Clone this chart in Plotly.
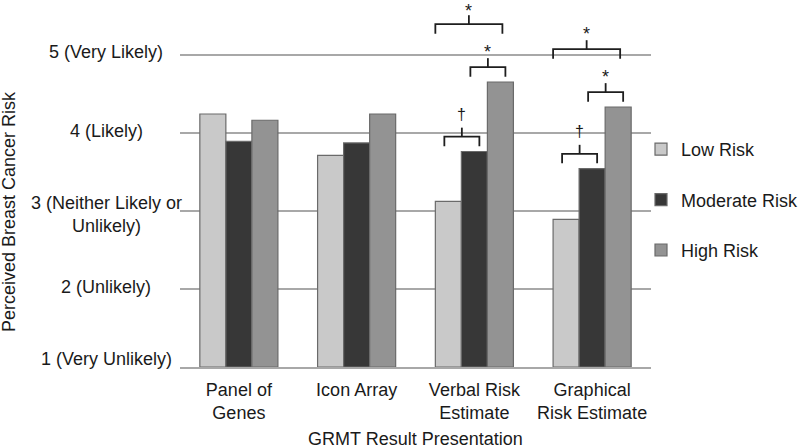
import plotly.graph_objs as go

# GRMT result presentation formats (x categories)
categories = ["Panel of Genes", "Icon Array", "Verbal Risk Estimate", "Graphical Risk Estimate"]
category_labels = ["Panel of<br>Genes", "Icon Array", "Verbal Risk<br>Estimate", "Graphical<br>Risk Estimate"]

# mean perceived risk per group
series_names = ["Low Risk", "Moderate Risk", "High Risk"]
low_risk = [4.24, 3.71, 3.12, 2.89]
moderate_risk = [3.89, 3.87, 3.76, 3.54]
high_risk = [4.16, 4.24, 4.65, 4.33]

# y tick labels
y_ticks = [1, 2, 3, 4, 5]
y_tick_labels = ["1 (Very Unlikely)", "2 (Unlikely)", "3 (Neither Likely or<br>Unlikely)",
                 "4 (Likely)", "5 (Very Likely)"]

# significance brackets: (category, group a, group b, marker)
sig_tests = [
    ("Verbal Risk Estimate", "Low Risk", "Moderate Risk", "†"),
    ("Verbal Risk Estimate", "Moderate Risk", "High Risk", "*"),
    ("Verbal Risk Estimate", "Low Risk", "High Risk", "*"),
    ("Graphical Risk Estimate", "Low Risk", "Moderate Risk", "†"),
    ("Graphical Risk Estimate", "Moderate Risk", "High Risk", "*"),
    ("Graphical Risk Estimate", "Low Risk", "High Risk", "*"),
]

colors = ["#c9c9c9", "#373737", "#939393"]
FONT = "Liberation Sans, Arial, sans-serif"
TXT = "#1a1a1a"
FS = 18

W, H = 800, 448
ML, MR, MT, MB = 180, 149, 0, 81
plot_w = W - ML - MR
plot_h = H - MT - MB
YMIN, YMAX = 1, 5.7
px_x = 1.0 / (plot_w / 4.0)          # data units per pixel on x
px_y = (YMAX - YMIN) / plot_h        # data units per pixel on y
bargap = 0.337
bar_w = (1 - bargap) / 3

fig = go.Figure()
all_series = [low_risk, moderate_risk, high_risk]
for i, vals in enumerate(all_series):
    fig.add_trace(
        go.Bar(
            x=categories,
            y=[v - YMIN for v in vals],
            base=YMIN,
            name=series_names[i],
            marker=dict(color=colors[i], line=dict(color="#6a6a6a", width=1.2)),
            legendgroup=series_names[i],
        )
    )


def bar_center(cat, name):
    return categories.index(cat) + (series_names.index(name) - 1) * bar_w


shapes = []
annotations = []
line = dict(color="#1e1e1e", width=1.8)
for cat, a, b, mark in sig_tests:
    ia, ib = series_names.index(a), series_names.index(b)
    span = ib - ia
    ci = categories.index(cat)
    top = max(all_series[k][ci] for k in range(ia, ib + 1))
    yh = top + 0.19 + 0.55 * (span - 1)
    if span == 1:
        x0 = bar_center(cat, a) - 4 * px_x
        x1 = bar_center(cat, b) + 5 * px_x
    else:
        x0 = bar_center(cat, a) - 13 * px_x
        x1 = bar_center(cat, b) + 2 * px_x
    xm = (x0 + x1) / 2
    leg = 9.5 * px_y
    shapes.append(dict(type="path", xref="x", yref="y",
                       path=f"M {x0},{yh - leg} L {x0},{yh} L {x1},{yh} L {x1},{yh - leg}",
                       line=line))
    shapes.append(dict(type="line", xref="x", yref="y", x0=xm, x1=xm, y0=yh, y1=yh + 9 * px_y, line=line))
    if mark == "*":
        # asterisk sits high in its box: anchor the box top, kept inside the page
        annotations.append(dict(x=xm, y=min(yh + 26 * px_y, YMAX), xref="x", yref="y",
                                text=mark, showarrow=False, yanchor="top", borderpad=0,
                                font=dict(family=FONT, size=18, color=TXT)))
    else:
        annotations.append(dict(x=xm, y=yh + 22 * px_y, xref="x", yref="y",
                                text=mark, showarrow=False, yanchor="middle",
                                font=dict(family=FONT, size=16, color=TXT)))

# y tick labels, centred like the original
for v, lab in zip(y_ticks, y_tick_labels):
    shift = 2
    if "<br>" in lab:
        shift = -4
    elif v == YMIN:
        shift = 8
    elif v == max(y_ticks):
        shift = 3
    annotations.append(dict(x=(106 - ML) / plot_w, xref="paper", y=v, yref="y", text=lab,
                            showarrow=False, xanchor="center", yanchor="middle", yshift=shift,
                            align="center", font=dict(family=FONT, size=FS, color=TXT)))

annotations.append(dict(x=(9 - ML) / plot_w, xref="paper", y=(plot_h - 212) / plot_h, yref="paper",
                        text="Perceived Breast Cancer Risk", textangle=-90, showarrow=False,
                        xanchor="center", yanchor="middle", font=dict(family=FONT, size=FS, color=TXT)))
annotations.append(dict(x=0.5, xref="paper", y=(plot_h - 439) / plot_h, yref="paper",
                        text="GRMT Result Presentation", showarrow=False,
                        xanchor="center", yanchor="middle", font=dict(family=FONT, size=FS, color=TXT)))

fig.update_layout(
    width=W, height=H,
    margin=dict(l=ML, r=MR, t=MT, b=MB, autoexpand=False),
    paper_bgcolor="white", plot_bgcolor="white",
    barmode="group", bargap=bargap, bargroupgap=0,
    font=dict(family=FONT, size=FS, color=TXT),
    showlegend=True,
    legend=dict(xref="container", yref="container", x=641 / W, xanchor="left",
                y=1 - 131 / H, yanchor="top",
                tracegroupgap=24, bgcolor="rgba(0,0,0,0)", font=dict(size=FS)),
    shapes=shapes,
    annotations=annotations,
)
fig.update_xaxes(
    tickvals=categories, ticktext=category_labels, showgrid=False,
    showline=True, linecolor="#a8a8a8", linewidth=2, ticks="",
    ticklabelstandoff=5, tickfont=dict(size=FS),
)
fig.update_yaxes(
    range=[YMIN, YMAX], tickvals=y_ticks, showticklabels=False,
    showgrid=True, gridcolor="#a8a8a8", gridwidth=1.6, zeroline=False, showline=False,
)

# drop the page's default body margin so the figure sits at the window origin
fig.write_html("out.html", config={"displayModeBar": False},
               post_script="document.body.style.margin='0';")
